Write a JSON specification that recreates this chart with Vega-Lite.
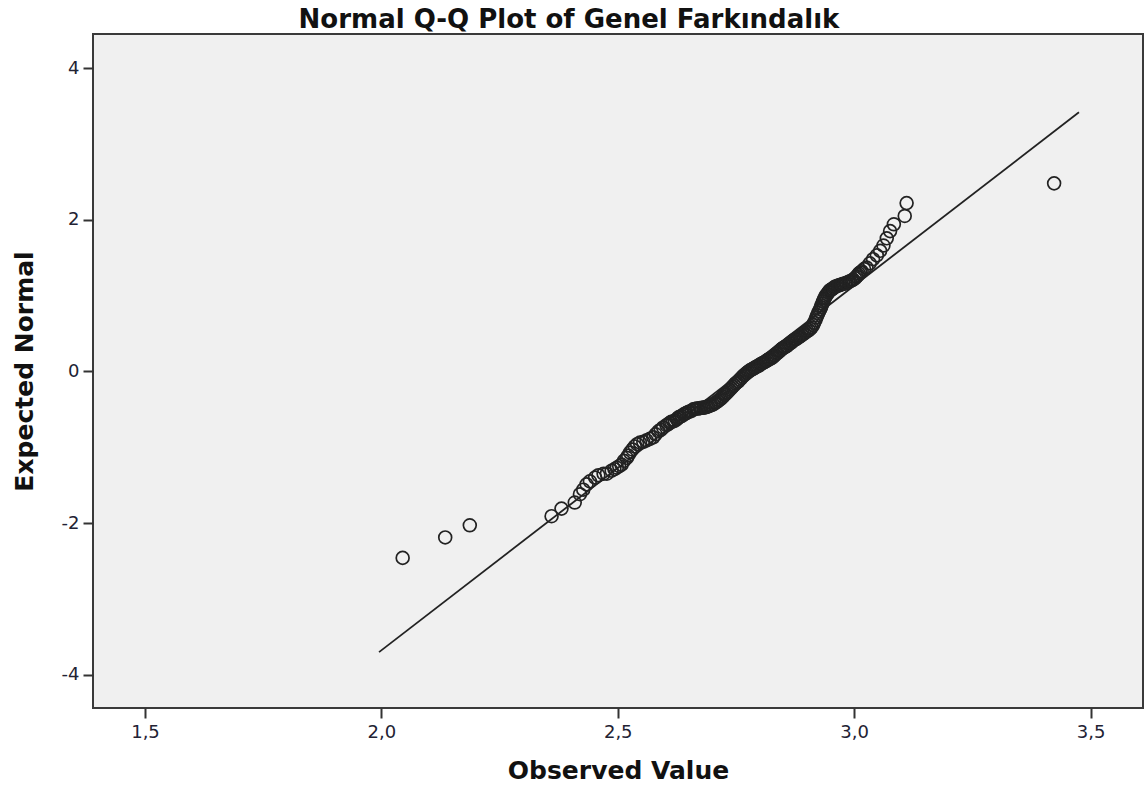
{
  "$schema": "https://vega.github.io/schema/vega-lite/v6.json",
  "width": 1050,
  "height": 674,
  "autosize": {"type": "none"},
  "padding": {"left": 93, "top": 34, "right": 4, "bottom": 81},
  "background": "white",
  "title": {
    "text": "Normal Q-Q Plot of Genel Farkındalık",
    "font": "DejaVu Sans",
    "fontSize": 26,
    "fontWeight": "bold",
    "color": "#111",
    "anchor": "middle",
    "frame": "group",
    "dx": -49,
    "offset": 1
  },
  "config": {
    "view": {"fill": "#f0f0f0", "stroke": "#3a3a3a", "strokeWidth": 2},
    "axis": {
      "grid": false,
      "domain": false,
      "tickColor": "#333",
      "tickWidth": 2,
      "tickSize": 10,
      "labelFont": "DejaVu Sans",
      "labelFontSize": 18,
      "labelColor": "#222233",
      "titleFont": "DejaVu Sans",
      "titleFontSize": 25,
      "titleFontWeight": "bold",
      "titleColor": "#111"
    }
  },
  "datasets": {
    "pts": [
      {"obs": 2.045, "exp": -2.46}, {"obs": 2.135, "exp": -2.19}, {"obs": 2.187, "exp": -2.03},
      {"obs": 2.360, "exp": -1.91}, {"obs": 2.381, "exp": -1.81}, {"obs": 2.409, "exp": -1.73},
      {"obs": 2.420, "exp": -1.62}, {"obs": 2.427, "exp": -1.56}, {"obs": 2.434, "exp": -1.49},
      {"obs": 2.441, "exp": -1.45}, {"obs": 2.452, "exp": -1.40}, {"obs": 2.459, "exp": -1.37},
      {"obs": 2.470, "exp": -1.35}, {"obs": 2.477, "exp": -1.35}, {"obs": 2.487, "exp": -1.31},
      {"obs": 2.493, "exp": -1.29}, {"obs": 2.498, "exp": -1.27}, {"obs": 2.503, "exp": -1.25},
      {"obs": 2.508, "exp": -1.23}, {"obs": 2.513, "exp": -1.18}, {"obs": 2.519, "exp": -1.14},
      {"obs": 2.522, "exp": -1.11}, {"obs": 2.526, "exp": -1.07}, {"obs": 2.531, "exp": -1.03},
      {"obs": 2.536, "exp": -0.99}, {"obs": 2.541, "exp": -0.96}, {"obs": 2.547, "exp": -0.94},
      {"obs": 2.554, "exp": -0.93}, {"obs": 2.561, "exp": -0.91}, {"obs": 2.568, "exp": -0.89},
      {"obs": 2.575, "exp": -0.87}, {"obs": 2.580, "exp": -0.83}, {"obs": 2.586, "exp": -0.79},
      {"obs": 2.591, "exp": -0.77}, {"obs": 2.596, "exp": -0.74}, {"obs": 2.603, "exp": -0.71},
      {"obs": 2.610, "exp": -0.68}, {"obs": 2.617, "exp": -0.66}, {"obs": 2.625, "exp": -0.63},
      {"obs": 2.631, "exp": -0.60}, {"obs": 2.639, "exp": -0.57}, {"obs": 2.645, "exp": -0.55},
      {"obs": 2.652, "exp": -0.53}, {"obs": 2.660, "exp": -0.50}, {"obs": 2.667, "exp": -0.49},
      {"obs": 2.674, "exp": -0.485}, {"obs": 2.681, "exp": -0.48}, {"obs": 2.688, "exp": -0.47},
      {"obs": 2.695, "exp": -0.45}, {"obs": 2.702, "exp": -0.435}, {"obs": 2.708, "exp": -0.41},
      {"obs": 2.714, "exp": -0.38}, {"obs": 2.720, "exp": -0.35}, {"obs": 2.726, "exp": -0.31},
      {"obs": 2.731, "exp": -0.28}, {"obs": 2.737, "exp": -0.24}, {"obs": 2.743, "exp": -0.20},
      {"obs": 2.749, "exp": -0.16}, {"obs": 2.755, "exp": -0.13}, {"obs": 2.761, "exp": -0.09},
      {"obs": 2.767, "exp": -0.05}, {"obs": 2.773, "exp": -0.02}, {"obs": 2.779, "exp": 0.01},
      {"obs": 2.785, "exp": 0.03}, {"obs": 2.790, "exp": 0.05}, {"obs": 2.796, "exp": 0.07},
      {"obs": 2.802, "exp": 0.095}, {"obs": 2.808, "exp": 0.115}, {"obs": 2.814, "exp": 0.135},
      {"obs": 2.820, "exp": 0.16}, {"obs": 2.826, "exp": 0.18}, {"obs": 2.832, "exp": 0.21},
      {"obs": 2.838, "exp": 0.245}, {"obs": 2.843, "exp": 0.275}, {"obs": 2.848, "exp": 0.30},
      {"obs": 2.853, "exp": 0.32}, {"obs": 2.858, "exp": 0.335}, {"obs": 2.864, "exp": 0.37},
      {"obs": 2.869, "exp": 0.395}, {"obs": 2.875, "exp": 0.42}, {"obs": 2.881, "exp": 0.445},
      {"obs": 2.886, "exp": 0.465}, {"obs": 2.892, "exp": 0.49}, {"obs": 2.898, "exp": 0.52},
      {"obs": 2.904, "exp": 0.545}, {"obs": 2.910, "exp": 0.58}, {"obs": 2.915, "exp": 0.64},
      {"obs": 2.920, "exp": 0.71}, {"obs": 2.924, "exp": 0.77}, {"obs": 2.928, "exp": 0.82},
      {"obs": 2.931, "exp": 0.87}, {"obs": 2.934, "exp": 0.92}, {"obs": 2.937, "exp": 0.96},
      {"obs": 2.940, "exp": 1.00}, {"obs": 2.945, "exp": 1.04}, {"obs": 2.949, "exp": 1.07},
      {"obs": 2.954, "exp": 1.09}, {"obs": 2.959, "exp": 1.115}, {"obs": 2.965, "exp": 1.13},
      {"obs": 2.971, "exp": 1.14}, {"obs": 2.977, "exp": 1.155}, {"obs": 2.984, "exp": 1.17},
      {"obs": 2.991, "exp": 1.19}, {"obs": 2.998, "exp": 1.21}, {"obs": 3.005, "exp": 1.25},
      {"obs": 3.010, "exp": 1.29}, {"obs": 3.016, "exp": 1.32}, {"obs": 3.021, "exp": 1.35},
      {"obs": 3.026, "exp": 1.37}, {"obs": 3.033, "exp": 1.425}, {"obs": 3.040, "exp": 1.48},
      {"obs": 3.048, "exp": 1.53}, {"obs": 3.055, "exp": 1.59}, {"obs": 3.062, "exp": 1.66},
      {"obs": 3.069, "exp": 1.755}, {"obs": 3.076, "exp": 1.85}, {"obs": 3.084, "exp": 1.94},
      {"obs": 3.107, "exp": 2.05}, {"obs": 3.111, "exp": 2.22}, {"obs": 3.423, "exp": 2.48},
      {"obs": 2.606, "exp": -0.70}, {"obs": 2.613, "exp": -0.665}, {"obs": 2.621, "exp": -0.65},
      {"obs": 2.628, "exp": -0.61}, {"obs": 2.635, "exp": -0.59}, {"obs": 2.642, "exp": -0.56},
      {"obs": 2.649, "exp": -0.535}, {"obs": 2.656, "exp": -0.52}, {"obs": 2.663, "exp": -0.495},
      {"obs": 2.670, "exp": -0.49}, {"obs": 2.677, "exp": -0.48}, {"obs": 2.684, "exp": -0.475},
      {"obs": 2.691, "exp": -0.46}, {"obs": 2.698, "exp": -0.445}, {"obs": 2.705, "exp": -0.42},
      {"obs": 2.711, "exp": -0.395}, {"obs": 2.717, "exp": -0.365}, {"obs": 2.723, "exp": -0.33},
      {"obs": 2.728, "exp": -0.295}, {"obs": 2.734, "exp": -0.26}, {"obs": 2.740, "exp": -0.22},
      {"obs": 2.746, "exp": -0.18}, {"obs": 2.752, "exp": -0.145}, {"obs": 2.758, "exp": -0.11},
      {"obs": 2.764, "exp": -0.07}, {"obs": 2.770, "exp": -0.035}, {"obs": 2.776, "exp": -0.005},
      {"obs": 2.782, "exp": 0.02}, {"obs": 2.788, "exp": 0.04}, {"obs": 2.793, "exp": 0.06},
      {"obs": 2.799, "exp": 0.08}, {"obs": 2.805, "exp": 0.105}, {"obs": 2.811, "exp": 0.125},
      {"obs": 2.817, "exp": 0.15}, {"obs": 2.823, "exp": 0.17}, {"obs": 2.829, "exp": 0.195},
      {"obs": 2.835, "exp": 0.23}, {"obs": 2.841, "exp": 0.26}, {"obs": 2.846, "exp": 0.29},
      {"obs": 2.851, "exp": 0.31}, {"obs": 2.856, "exp": 0.33}, {"obs": 2.861, "exp": 0.355},
      {"obs": 2.867, "exp": 0.38}, {"obs": 2.872, "exp": 0.41}, {"obs": 2.878, "exp": 0.43},
      {"obs": 2.884, "exp": 0.455}, {"obs": 2.889, "exp": 0.48}, {"obs": 2.895, "exp": 0.505},
      {"obs": 2.901, "exp": 0.53}, {"obs": 2.907, "exp": 0.56}, {"obs": 2.913, "exp": 0.61},
      {"obs": 2.918, "exp": 0.675}, {"obs": 2.922, "exp": 0.74}, {"obs": 2.926, "exp": 0.795},
      {"obs": 2.930, "exp": 0.845}, {"obs": 2.933, "exp": 0.895}, {"obs": 2.936, "exp": 0.94},
      {"obs": 2.939, "exp": 0.98}, {"obs": 2.943, "exp": 1.02}, {"obs": 2.947, "exp": 1.055},
      {"obs": 2.952, "exp": 1.08}, {"obs": 2.957, "exp": 1.10}, {"obs": 2.962, "exp": 1.12},
      {"obs": 2.968, "exp": 1.135}, {"obs": 2.974, "exp": 1.15}, {"obs": 2.981, "exp": 1.16},
      {"obs": 2.988, "exp": 1.18}, {"obs": 2.995, "exp": 1.20}, {"obs": 3.002, "exp": 1.23},
      {"obs": 3.008, "exp": 1.27}, {"obs": 3.013, "exp": 1.305}
    ],
    "ref": [
      {"obs": 1.995, "exp": -3.703},
      {"obs": 3.4755, "exp": 3.417}
    ]
  },
  "layer": [
    {
      "data": {"name": "ref"},
      "mark": {"type": "line", "color": "#222", "strokeWidth": 1.8},
      "encoding": {
        "x": {"field": "obs", "type": "quantitative"},
        "y": {"field": "exp", "type": "quantitative"}
      }
    },
    {
      "data": {"name": "pts"},
      "mark": {"type": "point", "shape": "circle", "filled": false, "stroke": "#222", "strokeWidth": 1.7, "size": 165, "opacity": 1},
      "encoding": {
        "x": {
          "field": "obs", "type": "quantitative",
          "scale": {"domain": [1.39, 3.611], "nice": false, "zero": false},
          "axis": {
            "title": "Observed Value",
            "values": [1.5, 2.0, 2.5, 3.0, 3.5],
            "labelExpr": "replace(format(datum.value, '.1f'), '.', ',')",
            "labelPadding": 5,
            "titlePadding": 17
          }
        },
        "y": {
          "field": "exp", "type": "quantitative",
          "scale": {"domain": [-4.44, 4.45], "nice": false, "zero": false},
          "axis": {
            "title": "Expected Normal",
            "values": [-4, -2, 0, 2, 4],
            "labelExpr": "datum.value < 0 ? '-' + abs(datum.value) : '' + datum.value",
            "labelPadding": 4,
            "titlePadding": 24
          }
        }
      }
    }
  ]
}
